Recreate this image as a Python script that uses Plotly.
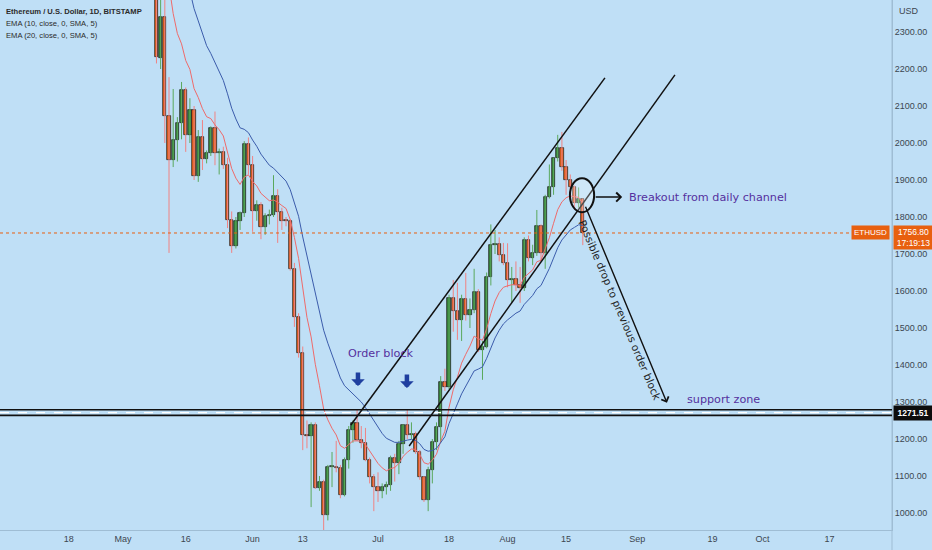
import plotly.graph_objects as go
import pandas as pd

# ---------------- data ----------------
dates = pd.date_range("2022-05-09", "2022-08-19", freq="D")

opens = [2518, 2229, 2341, 2074, 1955, 2008, 2054, 2143, 2022, 2089, 1911, 2016, 1957, 1973, 2041, 1973, 1977, 1940, 1792, 1722, 1790, 1810, 1997,
         1940, 1816, 1832, 1773, 1803, 1806, 1857, 1814, 1790, 1788, 1660, 1530, 1432, 1210, 1207, 1238, 1068, 1084, 995, 1124, 1125, 1122, 1049, 1143, 1224, 1243, 1197, 1190, 1143, 1097,
         1070, 1060, 1070, 1075, 1149, 1135, 1186, 1238, 1211, 1214, 1165, 1097, 1035, 1116, 1192, 1232, 1354, 1340, 1581, 1546, 1522, 1578, 1535, 1549, 1597, 1441, 1449, 1638, 1724, 1727, 1697,
         1676, 1630, 1632, 1616, 1608, 1738, 1689, 1703, 1776, 1703, 1854, 1881, 1959, 1986, 1935, 1900, 1881, 1838, 1849]
highs = [2530, 2450, 2445, 2178, 2146, 2070, 2165, 2150, 2121, 2100, 2035, 2062, 1980, 2045, 2085, 1985, 1990, 1960, 1815, 1800, 1815, 2005, 2015,
         1965, 1845, 1840, 1810, 1820, 1913, 1875, 1825, 1800, 1795, 1676, 1540, 1450, 1250, 1245, 1245, 1100, 1090, 1130, 1165, 1195, 1130, 1150, 1235, 1250, 1280, 1235, 1230, 1150, 1105,
         1110, 1080, 1085, 1155, 1160, 1195, 1240, 1280, 1245, 1220, 1170, 1100, 1125, 1200, 1245, 1370, 1390, 1590, 1630, 1622, 1590, 1649, 1580, 1660, 1605, 1465, 1650, 1780, 1765, 1745, 1730,
         1729, 1665, 1680, 1665, 1745, 1750, 1725, 1819, 1780, 1860, 1942, 1960, 2022, 2030, 1954, 1915, 1885, 1880, 1850]
lows = [2215, 2200, 2000, 1703, 1935, 1950, 2010, 1976, 2000, 1900, 1895, 1927, 1945, 1965, 1940, 1915, 1930, 1770, 1703, 1715, 1765, 1800, 1915,
        1760, 1790, 1740, 1752, 1780, 1800, 1730, 1765, 1775, 1655, 1503, 1420, 1170, 1175, 1016, 1065, 1060, 900, 980, 1070, 1110, 1040, 1045, 1120, 1190, 1195, 1175, 1140, 1080, 1005,
        1030, 1040, 1050, 1060, 1085, 1105, 1160, 1200, 1200, 1160, 1090, 1030, 1005, 1080, 1170, 1190, 1330, 1335, 1490, 1468, 1465, 1520, 1500, 1540, 1435, 1360, 1445, 1615, 1700, 1680, 1670,
        1610, 1570, 1600, 1568, 1600, 1680, 1670, 1695, 1680, 1660, 1850, 1860, 1950, 1925, 1860, 1855, 1820, 1825, 1724]
closes = [2232, 2341, 2074, 1955, 2008, 2054, 2143, 2022, 2089, 1911, 2016, 1957, 1973, 2041, 1973, 1977, 1940, 1792, 1722, 1790, 1810, 1997, 1940,
          1816, 1832, 1773, 1803, 1806, 1857, 1814, 1790, 1788, 1660, 1530, 1432, 1210, 1207, 1238, 1068, 1084, 995, 1124, 1125, 1122, 1049, 1143, 1224, 1243, 1197, 1190, 1143, 1097, 1070,
          1060, 1070, 1075, 1149, 1135, 1186, 1238, 1211, 1214, 1165, 1097, 1035, 1116, 1192, 1232, 1354, 1340, 1581, 1546, 1522, 1578, 1535, 1549, 1597, 1441, 1449, 1638, 1724, 1727, 1697, 1676,
          1630, 1632, 1616, 1608, 1738, 1689, 1703, 1776, 1703, 1854, 1881, 1959, 1986, 1935, 1900, 1881, 1838, 1849, 1757]
ema10 = [2697, 2632, 2531, 2426, 2350, 2296, 2268, 2223, 2199, 2147, 2123, 2093, 2071, 2066, 2049, 2036, 2019, 1978, 1931, 1905, 1888, 1908, 1914,
         1896, 1884, 1864, 1853, 1844, 1846, 1840, 1831, 1823, 1793, 1745, 1688, 1601, 1529, 1476, 1402, 1344, 1281, 1252, 1229, 1211, 1182, 1175, 1184, 1195, 1195, 1194, 1185, 1169, 1151,
         1134, 1122, 1114, 1120, 1123, 1134, 1153, 1164, 1173, 1172, 1158, 1136, 1132, 1143, 1159, 1194, 1221, 1286, 1333, 1367, 1405, 1429, 1451, 1478, 1471, 1467, 1498, 1539, 1573, 1596, 1610,
         1614, 1617, 1617, 1615, 1637, 1647, 1657, 1679, 1683, 1714, 1744, 1783, 1820, 1841, 1852, 1857, 1854, 1853, 1836]
ema20 = [2818, 2773, 2706, 2635, 2575, 2525, 2489, 2445, 2411, 2363, 2330, 2294, 2263, 2242, 2216, 2193, 2169, 2133, 2094, 2065, 2041, 2037, 2028,
         2008, 1991, 1970, 1954, 1940, 1932, 1921, 1909, 1897, 1874, 1841, 1802, 1746, 1695, 1651, 1596, 1547, 1494, 1459, 1427, 1398, 1365, 1344, 1333, 1324, 1312, 1300, 1285, 1267, 1248,
         1230, 1215, 1202, 1197, 1191, 1191, 1195, 1197, 1199, 1196, 1187, 1172, 1167, 1169, 1175, 1192, 1206, 1242, 1271, 1295, 1322, 1342, 1362, 1384, 1389, 1395, 1418, 1447, 1473, 1494, 1511,
         1522, 1532, 1540, 1546, 1564, 1576, 1588, 1606, 1615, 1638, 1661, 1689, 1717, 1738, 1753, 1765, 1772, 1779, 1777]

tick_dates = ["2022-04-18", "2022-05-01", "2022-05-16", "2022-06-01", "2022-06-13", "2022-07-01", "2022-07-18",
              "2022-08-01", "2022-08-15", "2022-09-01", "2022-09-19", "2022-10-01", "2022-10-17"]
tick_labels = ["18", "May", "16", "Jun", "13", "Jul", "18", "Aug", "15", "Sep", "19", "Oct", "17"]

last_price = 1756.80
support_level = 1271.51

# ---------------- styles ----------------
BG = "#bfdff6"
UP = "#37853b"
DN = "#e0601c"
UP_WICK = "#5aa85c"
DN_WICK = "#f08282"
PURPLE = "#55309e"
AXIS_COLOR = "#9fbdd4"
AXIS_FONT = dict(family="Liberation Sans, Arial, sans-serif", size=9, color="#3c4650")

fig = go.Figure()

# wicks
for is_up, col in ((True, UP_WICK), (False, DN_WICK)):
    wx, wy = [], []
    for d, o, h, l, c in zip(dates, opens, highs, lows, closes):
        if (c >= o) == is_up:
            wx += [d, d, None]
            wy += [l, h, None]
    fig.add_trace(go.Scatter(x=wx, y=wy, mode="lines", line=dict(color=col, width=1),
                             hoverinfo="skip", showlegend=False))

# bodies
base = [min(o, c) for o, c in zip(opens, closes)]
height = [max(abs(c - o), 3) for o, c in zip(opens, closes)]
colors = [UP if c >= o else DN for o, c in zip(opens, closes)]
fig.add_trace(go.Bar(x=dates, y=height, base=base, marker=dict(color=colors, line=dict(color="#1a1a1a", width=0.7)),
                     width=0.78 * 86400000, hoverinfo="skip", showlegend=False))

# EMAs
fig.add_trace(go.Scatter(x=dates, y=ema10, mode="lines", line=dict(color="#ef6a6a", width=1),
                         hoverinfo="skip", showlegend=False))
fig.add_trace(go.Scatter(x=dates, y=ema20, mode="lines", line=dict(color="#3b5cab", width=1),
                         hoverinfo="skip", showlegend=False))

shapes = []
# right-axis separator running through the date strip
shapes.append(dict(type="line", xref="paper", yref="paper", x0=1, x1=1, y0=-0.04, y1=1,
                   line=dict(color=AXIS_COLOR, width=1)))
# last price dotted line
shapes.append(dict(type="line", xref="paper", x0=0, x1=0.962, yref="y", y0=last_price, y1=last_price,
                   line=dict(color="#e8600f", width=1, dash="dot")))
# support zone double line
for off in (-7.5, 7.5):
    shapes.append(dict(type="line", xref="paper", x0=0, x1=1, yref="y", y0=support_level + off, y1=support_level + off,
                       line=dict(color="#111111", width=1.6)))
shapes.append(dict(type="line", xref="paper", x0=0, x1=1, yref="y", y0=support_level, y1=support_level,
                   line=dict(color="#ffffff", width=1.2, dash="dash")))
# channel lines
shapes.append(dict(type="line", xref="x", yref="y", x0="2022-06-24 12:00", y0=1238, x1="2022-08-24 07:00", y1=2176,
                   line=dict(color="#111111", width=1.5)))
shapes.append(dict(type="line", xref="x", yref="y", x0="2022-07-08 11:00", y0=1181, x1="2022-09-10 01:00", y1=2184,
                   line=dict(color="#111111", width=1.5)))
# breakout circle
shapes.append(dict(type="circle", xref="x", yref="y", x0="2022-08-15 22:00", x1="2022-08-21 17:00", y0=1813, y1=1905,
                   line=dict(color="#111111", width=2), fillcolor="rgba(255,255,255,0.25)"))
fig.update_layout(shapes=shapes)

LEG_FONT = dict(family="Liberation Sans, Arial", size=7.6, color="#2b2b2b")
ann = []
# legend texts
ann.append(dict(xref="paper", yref="paper", x=0, y=1, xshift=4, yshift=-5, xanchor="left", yanchor="top", showarrow=False,
                text="<b>Ethereum / U.S. Dollar, 1D, BITSTAMP</b>", font=LEG_FONT))
ann.append(dict(xref="paper", yref="paper", x=0, y=1, xshift=4, yshift=-17, xanchor="left", yanchor="top", showarrow=False,
                text="EMA (10, close, 0, SMA, 5)", font=LEG_FONT))
ann.append(dict(xref="paper", yref="paper", x=0, y=1, xshift=4, yshift=-29, xanchor="left", yanchor="top", showarrow=False,
                text="EMA (20, close, 0, SMA, 5)", font=LEG_FONT))
# USD
ann.append(dict(xref="paper", yref="paper", x=1, y=1, xshift=5, yshift=-4, xanchor="left", yanchor="top", showarrow=False,
                text="USD", font=AXIS_FONT))
# price labels
ann.append(dict(xref="paper", yref="y", x=0.998, y=last_price, xanchor="right", yanchor="middle", showarrow=False,
                text="ETHUSD", bgcolor="#e8600f", borderpad=2, font=dict(family="Liberation Sans, Arial", size=8, color="white")))
ann.append(dict(xref="paper", yref="y", x=1, y=last_price, xshift=1, yshift=8, xanchor="left", yanchor="top", showarrow=False,
                text="1756.80<br>17:19:13", bgcolor="#e8600f", borderpad=1, width=37, align="center",
                font=dict(family="Liberation Sans, Arial", size=8.5, color="white")))
ann.append(dict(xref="paper", yref="y", x=1, y=support_level, xshift=1, xanchor="left", yanchor="middle", showarrow=False,
                text="<b>1271.51</b>", bgcolor="#0d0d0d", borderpad=2, width=34,
                font=dict(family="Liberation Sans, Arial", size=8.5, color="white")))
# text annotations
TXT = dict(family="DejaVu Sans, Verdana, sans-serif", size=11.2, color=PURPLE)
ann.append(dict(x="2022-06-23 07:00", y=1432, xanchor="left", yanchor="middle", showarrow=False, text="Order block", font=TXT))
ann.append(dict(x="2022-08-29 14:00", y=1854, xanchor="left", yanchor="middle", showarrow=False,
                text="Breakout from daily channel", font=TXT))
ann.append(dict(x="2022-09-12 10:00", y=1308, xanchor="left", yanchor="middle", showarrow=False, text="support zone", font=TXT))
ann.append(dict(x="2022-08-27 22:00", y=1549, showarrow=False, textangle=67,
                text="Possible drop to previous order block",
                font=dict(family="DejaVu Sans, Verdana, sans-serif", size=10.5, color="#1e1e1e")))
# arrows
ann.append(dict(x="2022-08-28 10:00", y=1854, ax="2022-08-21 17:00", ay=1854, axref="x", ayref="y",
                showarrow=True, arrowhead=4, arrowsize=1.1, arrowwidth=1.6, arrowcolor="#111111", text=""))
ann.append(dict(x="2022-09-08 03:00", y=1298, ax="2022-08-19 12:00", ay=1832, axref="x", ayref="y",
                showarrow=True, arrowhead=4, arrowsize=1.1, arrowwidth=1.4, arrowcolor="#111111", text=""))
for xd, yp in (("2022-06-26 05:00", 1343), ("2022-07-07 22:00", 1338)):
    ann.append(dict(x=xd, y=yp, ax=0, ay=-15, showarrow=True, arrowhead=1, arrowsize=0.5, arrowwidth=4.5,
                    arrowcolor="#1f3f9f", text="", standoff=0))
fig.update_layout(annotations=ann)

fig.update_layout(
    width=932, height=550,
    margin=dict(l=0, r=40, t=0, b=20, autoexpand=False),
    paper_bgcolor=BG, plot_bgcolor=BG,
    showlegend=False, bargap=0, barmode="overlay",
    xaxis=dict(type="date", range=["2022-04-01 13:40", "2022-10-31 23:15"], tickvals=tick_dates, ticktext=tick_labels,
               showgrid=False, zeroline=False, showline=True, linecolor=AXIS_COLOR, ticks="", tickfont=AXIS_FONT,
               fixedrange=True),
    yaxis=dict(side="right", range=[954.1, 2386.5], tick0=0, dtick=100, tickformat=".2f",
               showgrid=False, zeroline=False, showline=True, linecolor=AXIS_COLOR, ticks="", tickfont=AXIS_FONT,
               fixedrange=True),
)

fig.write_html("out.html", config={"displayModeBar": False},
               post_script="document.body.style.margin='0';document.body.style.background='%s';" % BG)
